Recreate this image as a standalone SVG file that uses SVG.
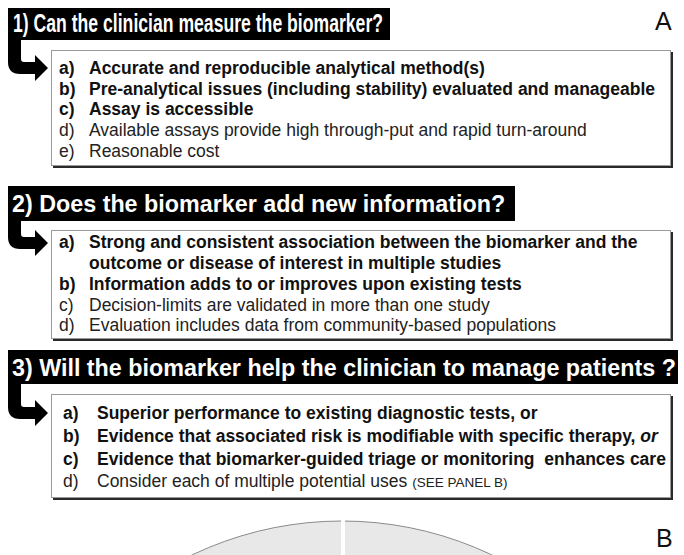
<svg xmlns="http://www.w3.org/2000/svg" width="684" height="555" viewBox="0 0 684 555">
<style>
.ttl{fill:#000}
.tt{font-family:"Liberation Sans",Arial,sans-serif;font-weight:bold;fill:#fff;font-size:23.3px}
.sh{fill:#2a2a2a}
.bx{fill:#fff;stroke:#9a9a9a;stroke-width:1}
.b{font-family:"Liberation Sans",Arial,sans-serif;font-weight:bold;font-size:17.5px;fill:#111}
.r{font-family:"Liberation Sans",Arial,sans-serif;font-size:17.5px;fill:#222}
.sm{font-size:13.5px}
.pl{font-family:"Liberation Sans",Arial,sans-serif;font-size:25px;fill:#111}
.arr{fill:#000}
</style>
<rect width="684" height="555" fill="#fff"/>
<text class="pl" x="655" y="30">A</text>

<g id="title1">
<rect class="ttl" x="8" y="8" width="382" height="32"/>
<text class="tt" x="13" y="32" textLength="370" lengthAdjust="spacingAndGlyphs" style="font-size:25px">1) Can the clinician measure the biomarker?</text>
</g>

<g id="box1">
<rect class="sh" x="53" y="52" width="620" height="116"/>
<rect class="bx" x="51.5" y="50.5" width="619" height="115"/>
<text class="b" x="59" y="74">a)</text><text class="b" x="89" y="74">Accurate and reproducible analytical method(s)</text>
<text class="b" x="59" y="95">b)</text><text class="b" x="89" y="95">Pre-analytical issues (including stability) evaluated and manageable</text>
<text class="b" x="59" y="115">c)</text><text class="b" x="89" y="115">Assay is accessible</text>
<text class="r" x="59" y="136">d)</text><text class="r" x="89" y="136">Available assays provide high through-put and rapid turn-around</text>
<text class="r" x="59" y="157">e)</text><text class="r" x="89" y="157">Reasonable cost</text>
</g>

<g id="title2">
<rect class="ttl" x="8" y="186" width="507" height="35"/>
<text class="tt" x="12" y="212">2) Does the biomarker add new information?</text>
</g>

<g id="box2">
<rect class="sh" x="53" y="232" width="620" height="109"/>
<rect class="bx" x="51.5" y="230.5" width="619" height="108"/>
<text class="b" x="59" y="248">a)</text><text class="b" x="89" y="248">Strong and consistent association between the biomarker and the</text>
<text class="b" x="89" y="269">outcome or disease of interest in multiple studies</text>
<text class="b" x="59" y="290">b)</text><text class="b" x="89" y="290">Information adds to or improves upon existing tests</text>
<text class="r" x="59" y="311">c)</text><text class="r" x="89" y="311">Decision-limits are validated in more than one study</text>
<text class="r" x="59" y="331">d)</text><text class="r" x="89" y="331">Evaluation includes data from community-based populations</text>
</g>

<g id="title3">
<rect class="ttl" x="8" y="350" width="670" height="34"/>
<text class="tt" x="12" y="376">3) Will the biomarker help the clinician to manage patients ?</text>
</g>

<g id="box3">
<rect class="sh" x="53" y="396" width="620" height="104"/>
<rect class="bx" x="51.5" y="394.5" width="619" height="103"/>
<text class="b" x="63" y="419">a)</text><text class="b" x="97" y="419">Superior performance to existing diagnostic tests, or</text>
<text class="b" x="63" y="442">b)</text><text class="b" x="97" y="442">Evidence that associated risk is modifiable with specific therapy, <tspan font-style="italic">or</tspan></text>
<text class="b" x="63" y="465">c)</text><text class="b" x="97" y="465">Evidence that biomarker-guided triage or monitoring&#160; enhances care</text>
<text class="r" x="63" y="487">d)</text><text class="r" x="97" y="487">Consider each of multiple potential uses <tspan class="sm">(SEE PANEL B)</tspan></text>
</g>

<g id="connectors">
<path class="arr" d="M8,40 L21,40 L21,59 Q21,62 24,62 L35,62 L35,55 L48,68 L35,81 L35,74 L20,74 Q8,74 8,62 Z"/>
<path class="arr" d="M8,221 L21,221 L21,234 Q21,237 24,237 L35,237 L35,230 L48,243 L35,256 L35,249 L20,249 Q8,249 8,237 Z"/>
<path class="arr" d="M8,384 L21,384 L21,404 Q21,407 24,407 L35,407 L35,400 L48,413 L35,426 L35,419 L20,419 Q8,419 8,407 Z"/>
</g>

<g id="panelB">
<circle cx="342" cy="869" r="348" fill="#e8e8e8" stroke="#8a8a8a" stroke-width="1"/>
<rect x="341" y="518" width="4" height="40" fill="#fff"/>
<text class="pl" x="656" y="547">B</text>
</g>
</svg>
